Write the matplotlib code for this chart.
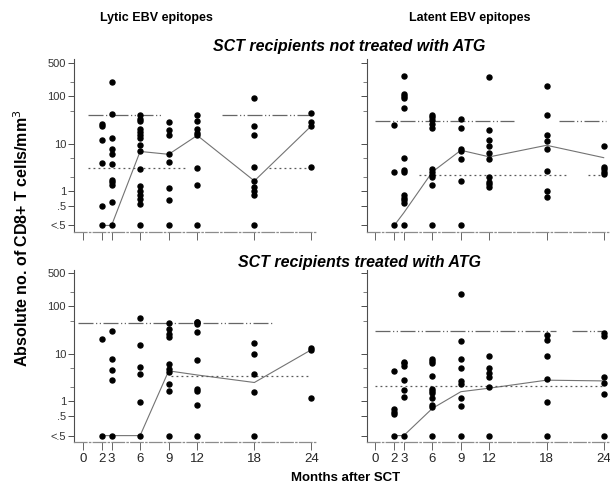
import matplotlib
matplotlib.use('Agg')
import matplotlib.pyplot as plt

plt.rcParams['font.family'] = ['Liberation Sans', 'DejaVu Sans']

LOW = 0.19  # where the "<.5" values sit on the axis

months = [2, 3, 6, 9, 12, 18, 24]
x_ticks = [0, 2, 3, 6, 9, 12, 18, 24]
y_ticks = [LOW, 0.5, 1, 10, 100, 500]
y_labels = ['<.5', '.5', '1', '10', '100', '500']

# values per month (2, 3, 6, 9, 12, 18, 24)
lytic_no_atg = [
    [26.6, 23.7, 12.0, 4.0, 0.49, LOW],
    [204, 43, 13.5, 7.8, 6.1, 3.7, 1.76, 1.55, 1.38, 0.6, LOW],
    [40, 34, 29.7, 20.2, 17.8, 15.6, 13.2, 9.6, 6.9, 3.0, 1.27, 1.0, 0.82, 0.7, 0.54, LOW],
    [28.8, 19.2, 15, 6.2, 4.1, 1.17, 0.65, LOW],
    [41, 29.7, 20.2, 17.2, 15.5, 3.15, 1.34, LOW],
    [92, 23.4, 15.3, 3.25, 1.65, 1.23, 1.0, 0.82, LOW],
    [45, 28.8, 23.7, 3.25],
]
lytic_no_atg_median = [LOW, LOW, 6.9, 6.0, 15, 1.65, 24]

latent_no_atg = [
    [25.4, 2.5, LOW],
    [267, 114, 101, 92, 57, 5.1, 2.8, 2.5, 0.82, 0.72, 0.64, 0.56, LOW],
    [41, 36, 31, 26, 22, 3.0, 2.55, 2.24, 2.0, 1.34, LOW],
    [33, 22, 7.9, 7.0, 4.7, 1.62, LOW],
    [255, 20, 11.9, 8.9, 6.5, 4.7, 2.0, 1.57, 1.4, 1.23],
    [162, 41, 15.6, 11.4, 7.7, 2.7, 1.0, 0.77],
    [9.0, 3.2, 2.9, 2.55, 2.3],
]
latent_no_atg_median = [LOW, 0.35, 2.55, 7.3, 5.3, 9.3, 5.1]

lytic_atg = [
    [20.8, LOW],
    [30, 7.8, 4.6, 2.8, LOW],
    [56, 15.4, 5.3, 3.7, 0.95, LOW],
    [45, 33.6, 25.7, 22.6, 6.0, 4.7, 4.2, 2.3, 1.67, LOW],
    [48, 46, 43, 29.5, 7.5, 1.8, 1.67, 0.84, LOW],
    [17, 10, 3.7, 1.54, LOW],
    [13.3, 12.3, 1.17],
]
lytic_atg_median = [LOW, LOW, LOW, 4.4, 3.6, 2.5, 12.3]

latent_atg = [
    [4.4, 0.69, 0.61, 0.54, LOW],
    [6.9, 6.3, 5.5, 2.8, 1.78, 1.26, LOW],
    [7.8, 7.0, 6.3, 3.4, 1.86, 1.67, 1.47, 1.16, 0.84, 0.75, LOW],
    [180, 18.5, 7.9, 5.0, 2.66, 2.37, 1.16, 0.8, LOW],
    [9.2, 5.0, 3.9, 3.3, 2.0, LOW],
    [25, 20, 8.9, 2.9, 0.95, LOW],
    [27.5, 23.4, 3.3, 2.5, 1.4, LOW],
]
latent_atg_median = [LOW, LOW, 0.71, 1.6, 1.9, 2.8, 2.7]

# reference lines: level and the month spans where they are drawn
lytic_no_atg_upper = (41, [(0.5, 8.2), (14.6, 24)])
lytic_no_atg_lower = (3.1, [(0.5, 11), (19.5, 24)])
latent_no_atg_upper = (30, [(0, 14.6), (19.3, 24.2)])
latent_no_atg_lower = (2.2, [(4.6, 20), (22.4, 24.2)])
lytic_atg_upper = (44, [(-0.5, 19.8)])
lytic_atg_lower = (3.4, [(9.2, 24)])
latent_atg_upper = (30, [(0, 19), (20.7, 24.2)])
latent_atg_lower = (2.1, [(0, 24)])


def draw_panel(ax, values, median, upper, lower, left_labels, bottom_labels):
    for m, vals in zip(months, values):
        ax.plot([m] * len(vals), vals, 'o', color='black', ms=3.6, zorder=3)
    ax.plot(months, median, '-', color='0.45', lw=0.8, zorder=2)
    for x0, x1 in upper[1]:
        ax.plot([x0, x1], [upper[0], upper[0]], color='0.4', lw=0.9,
                linestyle=(0, (12, 2, 1, 2, 1, 2)))
    for x0, x1 in lower[1]:
        ax.plot([x0, x1], [lower[0], lower[0]], color='0.35', lw=0.9,
                linestyle=(0, (1.5, 2.5)))

    ax.set_yscale('log')
    ax.set_ylim(0.14, 600)
    ax.set_xlim(-0.9, 24.6)
    ax.set_yticks(y_ticks)
    ax.set_yticks([200, 50, 5, 2], minor=True)
    ax.set_xticks(x_ticks)
    if left_labels:
        ax.set_yticklabels(y_labels)
    else:
        ax.set_yticklabels([])
    ax.set_yticklabels([], minor=True)
    if bottom_labels:
        ax.set_xticklabels([str(t) for t in x_ticks])
    else:
        ax.set_xticklabels([])

    for s in ['top', 'right']:
        ax.spines[s].set_visible(False)
    ax.spines['left'].set_color('0.3')
    ax.spines['left'].set_linewidth(0.8)
    ax.spines['bottom'].set_color('0.55')
    ax.spines['bottom'].set_linewidth(0.9)
    ax.spines['bottom'].set_linestyle((0, (10, 2, 1, 2)))
    ax.tick_params(axis='y', which='major', length=4, width=0.7,
                   color='0.3', labelsize=8, labelcolor='0.2', pad=2)
    ax.tick_params(axis='y', which='minor', length=3, width=0.6, color='0.4')
    ax.tick_params(axis='x', length=6, width=0.7, color='0.4',
                   labelsize=9.5, labelcolor='0.15', pad=2)


fig = plt.figure(figsize=(6.1, 4.91), dpi=100)
ax1 = fig.add_axes([0.122, 0.528, 0.398, 0.351])
ax2 = fig.add_axes([0.601, 0.528, 0.398, 0.351])
ax3 = fig.add_axes([0.122, 0.100, 0.398, 0.351])
ax4 = fig.add_axes([0.601, 0.100, 0.398, 0.351])

draw_panel(ax1, lytic_no_atg, lytic_no_atg_median, lytic_no_atg_upper, lytic_no_atg_lower, True, False)
draw_panel(ax2, latent_no_atg, latent_no_atg_median, latent_no_atg_upper, latent_no_atg_lower, False, False)
draw_panel(ax3, lytic_atg, lytic_atg_median, lytic_atg_upper, lytic_atg_lower, True, True)
draw_panel(ax4, latent_atg, latent_atg_median, latent_atg_upper, latent_atg_lower, False, True)

fig.text(156 / 610, 1 - 18 / 491, 'Lytic EBV epitopes', ha='center', va='center',
         fontsize=9, fontweight='bold')
fig.text(470 / 610, 1 - 18 / 491, 'Latent EBV epitopes', ha='center', va='center',
         fontsize=9, fontweight='bold')
fig.text(349 / 610, 1 - 46 / 491, 'SCT recipients not treated with ATG', ha='center',
         va='center', fontsize=11.5, fontweight='bold', style='italic')
fig.text(360 / 610, 1 - 263 / 491, 'SCT recipients treated with ATG', ha='center',
         va='center', fontsize=11.5, fontweight='bold', style='italic')
fig.text(22 / 610, 1 - 238 / 491, 'Absolute no. of CD8+ T cells/mm$^3$', rotation=90,
         ha='center', va='center', fontsize=11.5, fontweight='bold')
fig.text(346 / 610, 1 - 478 / 491, 'Months after SCT', ha='center', va='center',
         fontsize=9.5, fontweight='bold')

fig.savefig('out.png', dpi=100)
